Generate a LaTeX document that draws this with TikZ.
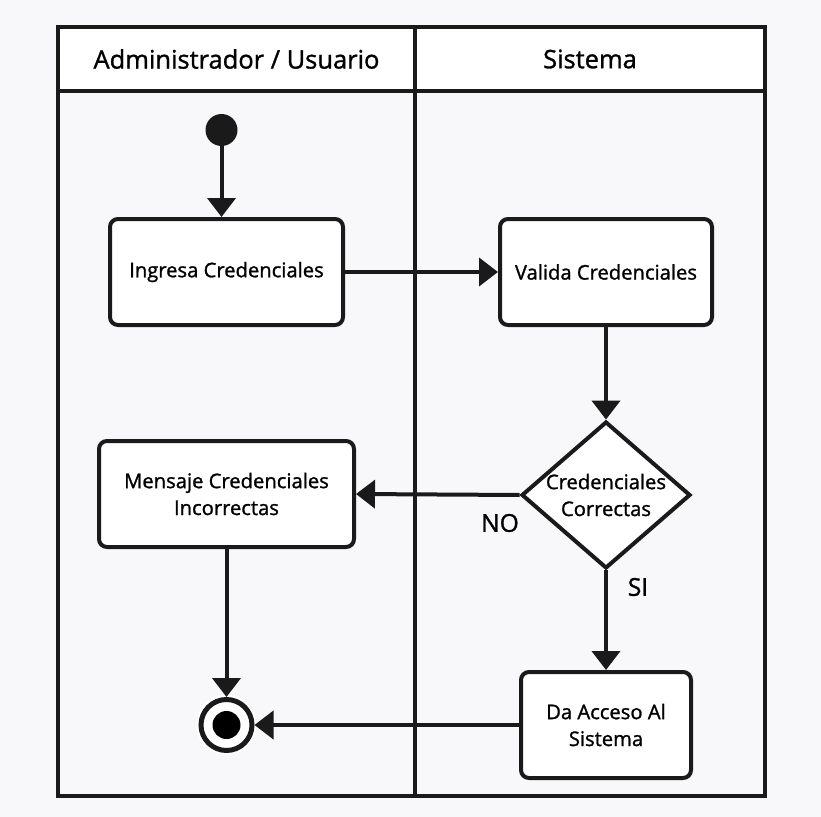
\documentclass[tikz,border=0pt]{standalone}
\usepackage{fontspec}
\setmainfont{Open Sans}
\newfontfamily\diagfont{Open Sans}[FakeBold=1.2]
\usepackage{tikz}
\usetikzlibrary{shapes.geometric, arrows.meta, positioning, calc}
\definecolor{bgColor}{RGB}{248, 248, 250}
\definecolor{lineColor}{RGB}{26, 26, 26}
\tikzstyle{arrow} = [line width=0.8mm, draw=lineColor, -{Triangle[length=3.8mm, width=5.6mm]}]
\tikzstyle{lane} = [rectangle, draw=lineColor, line width=0.8mm, outer sep=0pt, minimum height=12.8mm, text centered, font=\diagfont\fontsize{14.5}{17}\selectfont]
\tikzstyle{activity} = [rectangle, rounded corners=1.6mm, minimum height=21.2mm, align=center, draw=lineColor, line width=0.8mm, fill=white, font=\diagfont\fontsize{11.5}{15.3}\selectfont]
\tikzstyle{decision} = [diamond, draw=lineColor, line width=0.8mm, fill=white, inner sep=0pt, shape aspect=1.15, minimum width=33.6mm, minimum height=29.2mm, align=center, font=\diagfont\fontsize{11.5}{15.3}\selectfont]
\tikzstyle{guard} = [font=\diagfont\fontsize{14}{16}\selectfont]

\begin{document}
\begin{tikzpicture}
\fill [bgColor] (0,0) rectangle (164.2mm,-163.4mm);
\useasboundingbox (0,0) rectangle (164.2mm,-163.4mm);

% swimlanes
\node (laneA) [lane, fill=white, minimum width=71.4mm, anchor=north west] at (11.6mm,-5.4mm) {Administrador / Usuario};
\node (laneB) [lane, fill=white, minimum width=70mm, anchor=north west] at (laneA.north east) {Sistema};
\node (bodyA) [lane, minimum width=71.4mm, minimum height=141mm, anchor=north west] at (laneA.south west) {};
\node (bodyB) [lane, minimum width=70mm, minimum height=141mm, anchor=north west] at (laneB.south west) {};

% user side
\node (start) [circle, fill=lineColor, minimum size=6.4mm, inner sep=0pt] at (44.3mm,-26mm) {};
\node (ingresa) [activity, minimum width=46.6mm] at (45.3mm,-54.4mm) {Ingresa Credenciales};
\node (mensaje) [activity, minimum width=51mm] at (45.3mm,-98.8mm) {Mensaje Credenciales\\Incorrectas};

% system side
\node (valida) [activity, minimum width=42.4mm] at (121.2mm,-54.4mm) {Valida Credenciales};
\node (check) [decision] at (121.2mm,-99mm) {Credenciales\\Correctas};
\node (acceso) [activity, minimum width=34mm] at (121.2mm,-145mm) {Da Acceso Al\\Sistema};

\node (final) [circle, draw=lineColor, line width=1mm, fill=white, minimum size=10.2mm, inner sep=0pt,
  preaction={draw=white, line width=1.8mm},
  path picture={\fill [black] (path picture bounding box.center) circle (2.8mm);}] at (mensaje.south |- acceso.west) {};

\node (no) [guard] at (100mm,-104.6mm) {NO};
\node (si) [guard] at (127.6mm,-117.4mm) {SI};

\draw [arrow] (start) -- (start |- ingresa.north);
\draw [arrow] (ingresa.east) -- (valida.west);
\draw [arrow] (valida.south) -- (check.north);
\draw [arrow] (check.west) -- (mensaje.east);
\draw [arrow] (check.south) -- (acceso.north);
\draw [arrow] (mensaje.south) -- (final.north);
\draw [arrow] (acceso.west) -- (final.east);

\end{tikzpicture}
\end{document}
